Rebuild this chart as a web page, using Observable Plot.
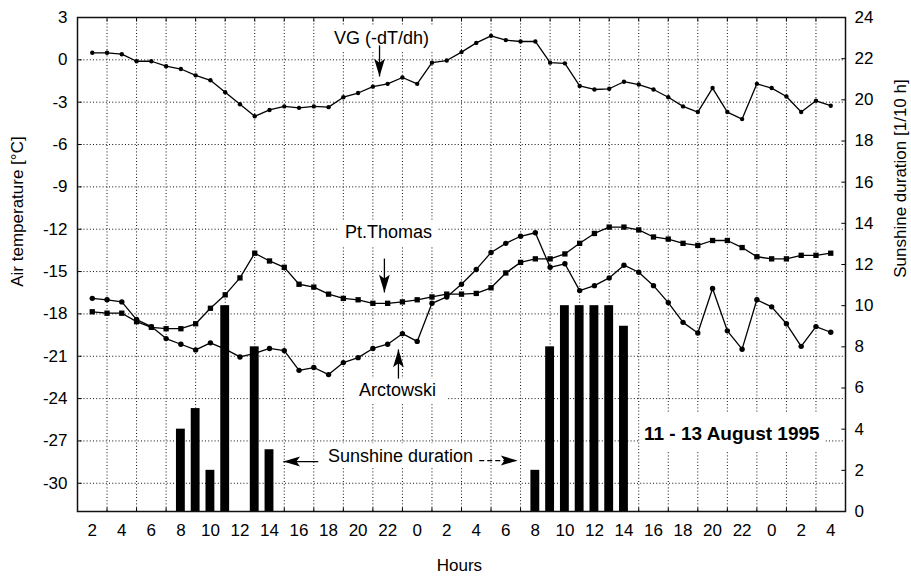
<!DOCTYPE html>
<html>
<head>
<meta charset="utf-8">
<script src="https://cdn.jsdelivr.net/npm/d3@7"></script>
<script src="https://cdn.jsdelivr.net/npm/@observablehq/plot@0.6"></script>
<style>
  html, body { margin: 0; padding: 0; background: white; }
</style>
</head>
<body>
<div id="chart"></div>
<script>
// ---- Data ----
// x index: hours since 02:00 on 11 August 1995 (0 .. 50)
const hourLabels = [2,4,6,8,10,12,14,16,18,20,22,0,2,4,6,8,10,12,14,16,18,20,22,0,2,4];

const vgValues = [
  0.5, 0.5, 0.4, -0.1, -0.1, -0.45, -0.65, -1.1, -1.45, -2.3,
  -3.15, -4.0, -3.55, -3.3, -3.4, -3.3, -3.35, -2.65, -2.35, -1.9,
  -1.7, -1.25, -1.7, -0.2, -0.05, 0.55, 1.2, 1.7, 1.4, 1.3,
  1.3, -0.2, -0.25, -1.85, -2.1, -2.05, -1.55, -1.75, -2.1, -2.65,
  -3.3, -3.7, -2.0, -3.7, -4.2, -1.7, -2.0, -2.6, -3.7, -2.9, -3.25
];

const ptThomasValues = [
  -17.85, -17.95, -17.95, -18.55, -18.95, -19.05, -19.05, -18.7, -17.6, -16.65,
  -15.45, -13.7, -14.25, -14.7, -15.9, -16.1, -16.6, -16.9, -17.0, -17.25,
  -17.25, -17.15, -17.0, -16.8, -16.6, -16.6, -16.55, -16.15, -15.1, -14.35,
  -14.1, -14.1, -13.75, -13.0, -12.3, -11.85, -11.85, -12.05, -12.55, -12.7,
  -13.0, -13.15, -12.8, -12.8, -13.3, -13.95, -14.1, -14.1, -13.85, -13.85, -13.7
];

const arctowskiValues = [
  -16.9, -17.0, -17.15, -18.4, -18.9, -19.75, -20.15, -20.55, -20.05, -20.5,
  -21.05, -20.8, -20.45, -20.6, -22.0, -21.8, -22.3, -21.45, -21.1, -20.45,
  -20.15, -19.4, -19.95, -17.25, -16.8, -15.9, -14.85, -13.65, -13.0, -12.5,
  -12.25, -14.7, -14.45, -16.35, -16.0, -15.45, -14.55, -15.05, -16.0, -17.2,
  -18.6, -19.35, -16.2, -19.2, -20.5, -17.0, -17.5, -18.7, -20.3, -18.9, -19.3
];

// Sunshine duration [1/10 h] at hour index
const sunIndex  = [6, 7, 8, 9, 11, 12, 30, 31, 32, 33, 34, 35, 36];
const sunValues = [4, 5, 2, 10, 8, 3, 2, 8, 10, 10, 10, 10, 9];

const tempTicks = [3, 0, -3, -6, -9, -12, -15, -18, -21, -24, -27, -30];
const sunTicks  = [0, 2, 4, 6, 8, 10, 12, 14, 16, 18, 20, 22, 24];

// ---- Scales setup ----
const tempMin = -32, tempMax = 3;
const sunMax = 24;
const sunToTemp = s => tempMin + s * (tempMax - tempMin) / sunMax;

const rows = vgValues.map((v, i) => ({t: i, vg: v, pt: ptThomasValues[i], arc: arctowskiValues[i]}));
const sun = sunIndex.map((t, i) => ({t, v: sunValues[i]}));
const gridT = d3.range(1, 50, 2);
const labelT = hourLabels.map((_, i) => i * 2);

// Annotations (data coordinates)
const labels = [
  {t: 19.58, v: 1.5,    text: "VG (-dT/dh)", weight: "normal"},
  {t: 20.05, v: -12.23, text: "Pt.Thomas",   weight: "normal"},
  {t: 20.66, v: -23.43, text: "Arctowski",   weight: "normal"},
  {t: 20.87, v: -28.1,  text: "Sunshine duration", weight: "normal"},
  {t: 43.3,  v: -26.47, text: "11 - 13 August 1995", weight: "bold"}
];
const titles = [
  {t: -5.06, v: -10.75, text: "Air temperature [°C]", rotate: -90},
  {t: 54.72, v: -8.41,  text: "Sunshine duration [1/10 h]", rotate: -90},
  {t: 24.86, v: -35.83, text: "Hours", rotate: 0}
];
const boxes = [
  {x1: 16.0, x2: 23.3, y1: 2.4,    y2: 0.65},
  {x1: 16.7, x2: 23.4, y1: -11.38, y2: -13.22},
  {x1: 17.2, x2: 24.0, y1: -22.6,  y2: -24.28},
  {x1: 15.6, x2: 26.1, y1: -27.2,  y2: -28.95},
  {x1: 37.1, x2: 49.6, y1: -25.06, y2: -27.82}
];
const arrows = [
  {x1: 19.45, y1: 1.02,   x2: 19.45, y2: -1.18,  dir: "down", dash: false},
  {x1: 19.78, y1: -14.08, x2: 19.78, y2: -16.48, dir: "down", dash: false},
  {x1: 20.73, y1: -22.58, x2: 20.73, y2: -20.52, dir: "up",   dash: false},
  {x1: 15.3,  y1: -28.46, x2: 12.94, y2: -28.46, dir: "left", dash: false},
  {x1: 26.2,  y1: -28.39, x2: 28.79, y2: -28.39, dir: "right", dash: true}
];

// Custom arrowhead symbols (tip at the anchor point)
function headSymbol(rot) {
  return {
    draw(context, size) {
      const s = Math.sqrt(size);
      const L = s * 1.25, hw = s * 0.38, back = L * 0.78;
      const c = Math.cos(rot), si = Math.sin(rot);
      const pts = [[0, 0], [hw, L], [0, back], [-hw, L]].map(([x, y]) => [x * c - y * si, x * si + y * c]);
      context.moveTo(pts[0][0], pts[0][1]);
      for (let k = 1; k < pts.length; ++k) context.lineTo(pts[k][0], pts[k][1]);
      context.closePath();
    }
  };
}
const heads = {
  up: headSymbol(0),
  down: headSymbol(Math.PI),
  left: headSymbol(-Math.PI / 2),
  right: headSymbol(Math.PI / 2)
};

const gridStyle = {stroke: "#111", strokeWidth: 1, strokeDasharray: "1,2.2"};
const tickLen = 0.28;

const chart = Plot.plot({
  width: 911,
  height: 577,
  marginTop: 17,
  marginBottom: 66,
  marginLeft: 77,
  marginRight: 66,
  x: {domain: [-1, 51]},
  y: {domain: [tempMin, tempMax]},
  style: {fontFamily: "'Liberation Sans', Arial, sans-serif", fontSize: "17px", background: "white", color: "black"},
  marks: [
    // grid
    Plot.ruleY(tempTicks.filter(v => v < tempMax), {y: d => d, ...gridStyle}),
    Plot.ruleX(gridT, {x: d => d, ...gridStyle}),
    // white boxes behind annotations
    Plot.rect(boxes, {x1: "x1", x2: "x2", y1: "y1", y2: "y2", fill: "white"}),
    // sunshine bars
    Plot.rect(sun, {x1: d => d.t - 0.3, x2: d => d.t + 0.3, y1: () => tempMin, y2: d => sunToTemp(d.v), fill: "black"}),
    // temperature lines
    Plot.line(rows, {x: "t", y: "vg", stroke: "black", strokeWidth: 1.3}),
    Plot.line(rows, {x: "t", y: "pt", stroke: "black", strokeWidth: 1.3}),
    Plot.line(rows, {x: "t", y: "arc", stroke: "black", strokeWidth: 1.3}),
    Plot.dot(rows, {x: "t", y: "vg", r: 2.2, fill: "black", stroke: "none"}),
    Plot.dot(rows, {x: "t", y: "arc", r: 2.7, fill: "black", stroke: "none"}),
    Plot.dot(rows, {x: "t", y: "pt", r: 3, symbol: "square", fill: "black", stroke: "none"}),
    // inward ticks
    Plot.link(tempTicks, {x1: () => -1, x2: () => -1 + tickLen, y1: d => d, y2: d => d, stroke: "black", strokeWidth: 1}),
    Plot.link(sunTicks, {x1: () => 51, x2: () => 51 - tickLen, y1: d => sunToTemp(d), y2: d => sunToTemp(d), stroke: "black", strokeWidth: 1}),
    Plot.link(gridT, {x1: d => d, x2: d => d, y1: () => tempMin, y2: () => tempMin + tickLen, stroke: "black", strokeWidth: 1}),
    Plot.link(gridT, {x1: d => d, x2: d => d, y1: () => tempMax, y2: () => tempMax - tickLen, stroke: "black", strokeWidth: 1}),
    Plot.frame({stroke: "#111", strokeWidth: 1.5}),
    // axes
    Plot.axisY({ticks: tempTicks, tickSize: 0, tickPadding: 10, label: null, tickFormat: d => String(d), fontSize: 17}),
    Plot.axisY({anchor: "right", ticks: sunTicks.map(sunToTemp), tickSize: 0, tickPadding: 9, label: null,
      tickFormat: d => String(Math.round((d - tempMin) * sunMax / (tempMax - tempMin))), fontSize: 17}),
    Plot.axisX({ticks: labelT, tickSize: 0, tickPadding: 12, label: null,
      tickFormat: d => String(hourLabels[Math.round(d / 2)]), fontSize: 17}),
    // axis titles
    Plot.text(titles, {x: "t", y: "v", text: "text", rotate: "rotate", fontSize: 17}),
    // annotations
    Plot.text(labels.filter(d => d.weight === "normal"), {x: "t", y: "v", text: "text", fontSize: 18}),
    Plot.text(labels.filter(d => d.weight === "bold"), {x: "t", y: "v", text: "text", fontSize: 19, fontWeight: "bold"}),
    Plot.link(arrows.filter(d => !d.dash), {x1: "x1", y1: "y1", x2: "x2", y2: "y2", stroke: "black", strokeWidth: 1.3}),
    Plot.link(arrows.filter(d => d.dash), {x1: "x1", y1: "y1", x2: "x2", y2: "y2", stroke: "black", strokeWidth: 1.3, strokeDasharray: "5,3"}),
    Plot.dot(arrows.filter(d => d.dir === "down"), {x: "x2", y: "y2", r: 8, symbol: heads.down, fill: "black", stroke: "none"}),
    Plot.dot(arrows.filter(d => d.dir === "up"), {x: "x2", y: "y2", r: 8, symbol: heads.up, fill: "black", stroke: "none"}),
    Plot.dot(arrows.filter(d => d.dir === "left"), {x: "x2", y: "y2", r: 7.5, symbol: heads.left, fill: "black", stroke: "none"}),
    Plot.dot(arrows.filter(d => d.dir === "right"), {x: "x2", y: "y2", r: 7.5, symbol: heads.right, fill: "black", stroke: "none"})
  ]
});
document.getElementById("chart").appendChild(chart);
</script>
</body>
</html>
